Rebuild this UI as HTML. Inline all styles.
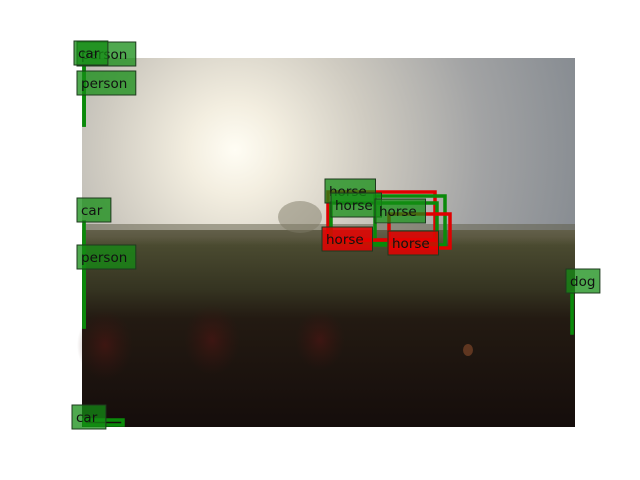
<!DOCTYPE html>
<html><head><meta charset="utf-8"><style>
html,body{margin:0;padding:0;background:#fff;width:640px;height:480px;overflow:hidden}
svg{display:block}
text{font-family:"DejaVu Sans","Liberation Sans",sans-serif;font-size:13.5px}
</style></head><body>
<svg id="chart" width="640" height="480">
<defs>
<radialGradient id="sun" cx="235" cy="150" r="380" gradientUnits="userSpaceOnUse">
<stop offset="0" stop-color="#fffdf4"/><stop offset="0.12" stop-color="#f3eee0"/><stop offset="0.35" stop-color="#cfcbc1"/><stop offset="0.65" stop-color="#a2a3a4"/><stop offset="1" stop-color="#80868d"/>
</radialGradient>
<linearGradient id="ground" x1="0" y1="0" x2="0" y2="1">
<stop offset="0" stop-color="#6a6550"/><stop offset="0.08" stop-color="#4a4a30"/><stop offset="0.3" stop-color="#353421"/><stop offset="0.45" stop-color="#231a12"/><stop offset="1" stop-color="#150d0b"/>
</linearGradient>
<radialGradient id="flare" cx="0.5" cy="0.5" r="0.5"><stop offset="0" stop-color="#4a1612" stop-opacity="0.7"/><stop offset="1" stop-color="#3a1410" stop-opacity="0"/></radialGradient>
</defs>
<g>
<rect x="82" y="58" width="493" height="369" fill="url(#sun)"/>
<rect x="82" y="230" width="493" height="197" fill="url(#ground)"/>
<rect x="82" y="224" width="493" height="12" fill="#5c5a44" opacity="0.5"/>
<ellipse cx="300" cy="217" rx="22" ry="16" fill="#7d7a66" opacity="0.5"/>
<ellipse cx="105" cy="345" rx="28" ry="35" fill="url(#flare)"/>
<ellipse cx="212" cy="340" rx="28" ry="35" fill="url(#flare)"/>
<ellipse cx="320" cy="340" rx="25" ry="30" fill="url(#flare)"/>
<ellipse cx="468" cy="350" rx="5" ry="6" fill="#a05530" opacity="0.5"/>
</g>
<g id="boxes"></g>
</svg>
<script>
const labels=["person","person","car","car","person","car","dog","horse","horse","horse","horse","horse"];
const boxColors=["g","g","g","g","g","g","g","r","g","g","r","r"];
const labelColors=["g","g","g","g","g","g","g","g","g","g","r","r"];
const bx0=[84,84,84,84,84,84,572,328,331,375,328,389];
const by0=[66,95,66,222,269,420,293,192,203,196,240,214];
const bx1=[84,84,84,84,84,123,572,435,437,445,435,450];
const by1=[125,125,125,327,327,425,333,240,243,245,240,248];
const lx=[77,77,74,77,77,72,566,325,331,375,322,388];
const ly=[42,71,41,198,245,405,269,179,193,199,227,231];
const g=document.getElementById('boxes');
const NS='http://www.w3.org/2000/svg';
for(let i=0;i<labels.length;i++){
  const c=boxColors[i]==='g'?'#0a8a0a':'#e00000';
  const r=document.createElementNS(NS,'rect');
  r.setAttribute('x',bx0[i]);r.setAttribute('y',by0[i]);
  r.setAttribute('width',Math.max(bx1[i]-bx0[i],0.1));r.setAttribute('height',Math.max(by1[i]-by0[i],0.1));
  r.setAttribute('fill','none');r.setAttribute('stroke',c);r.setAttribute('stroke-width','3.5');
  
  
  g.appendChild(r);
}
for(let i=0;i<labels.length;i++){
  const fill=labelColors[i]==='g'?'rgba(20,140,20,0.75)':'rgba(230,0,0,0.85)';
  const w=labels[i].length*8.3+9;
  const r=document.createElementNS(NS,'rect');
  r.setAttribute('x',lx[i]);r.setAttribute('y',ly[i]);r.setAttribute('width',w);r.setAttribute('height',24);
  r.setAttribute('fill',fill);r.setAttribute('stroke','#1e3a1e');r.setAttribute('stroke-width','1');
  
  
  g.appendChild(r);
  const t=document.createElementNS(NS,'text');
  t.setAttribute('x',lx[i]+4);t.setAttribute('y',ly[i]+17);t.setAttribute('fill','#111');
  t.textContent=labels[i];
  
  
  g.appendChild(t);
}
</script>
</body></html>
